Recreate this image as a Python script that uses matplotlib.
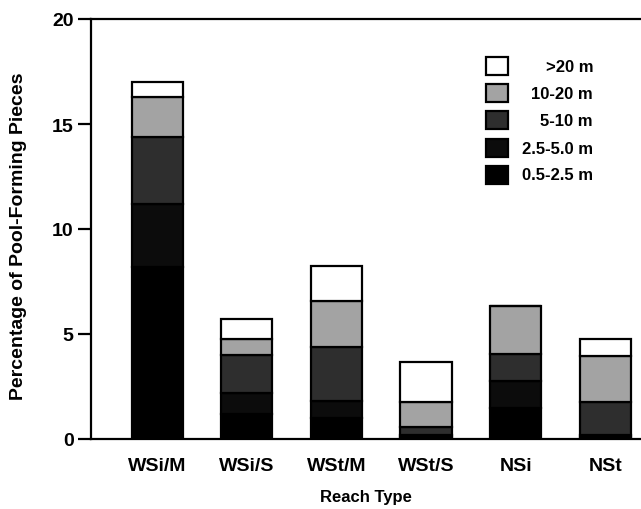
import matplotlib
matplotlib.use("Agg")
import matplotlib.pyplot as plt
from matplotlib.patches import Rectangle
import numpy as np

plt.rcParams['font.family'] = ['Liberation Sans', 'DejaVu Sans']
plt.rcParams['font.weight'] = 'bold'
plt.rcParams['axes.labelweight'] = 'bold'

categories = ["WSi/M", "WSi/S", "WSt/M", "WSt/S", "NSi", "NSt"]
size_classes = ["0.5-2.5 m", "2.5-5.0 m", "5-10 m", "10-20 m", ">20 m"]
v_05_25 = [8.2, 1.2, 1.0, 0.1, 1.5, 0.1]
v_25_50 = [3.0, 1.0, 0.8, 0.1, 1.26, 0.1]
v_5_10 = [3.2, 1.8, 2.6, 0.35, 1.3, 1.56]
v_10_20 = [1.9, 0.75, 2.16, 1.2, 2.25, 2.18]
v_20 = [0.7, 0.95, 1.7, 1.9, 0.0, 0.81]
series = [v_05_25, v_25_50, v_5_10, v_10_20, v_20]
colors = ["#000000", "#0c0c0c", "#2e2e2e", "#a3a3a3", "#ffffff"]

fig = plt.figure(figsize=(6.41, 5.10), dpi=100)
ax = fig.add_axes([91/641, 70/510, 550/641, 420/510])

x = np.arange(len(categories))
bottom = np.zeros(len(categories))
for vals, c in zip(series, colors):
    vals = np.array(vals)
    ax.bar(x, vals, bottom=bottom, width=0.57, color=c, edgecolor="black",
           linewidth=1.6, zorder=2)
    bottom += vals

ax.set_xlim(-0.74, 5.40)
ax.set_ylim(0, 20)
ax.set_yticks([0, 5, 10, 15, 20])
ax.set_xticks(x)
ax.set_xticklabels(categories)
ax.tick_params(axis='x', length=0, pad=13, labelsize=14)
ax.tick_params(axis='y', length=9.5, width=1.6, direction='out', pad=3, labelsize=14)
for s in ['left', 'top', 'bottom']:
    ax.spines[s].set_linewidth(1.6)
ax.spines['right'].set_visible(False)

ax.set_xlabel("Reach Type", fontsize=12, fontweight='bold', labelpad=11)
ax.set_ylabel("Percentage of Pool-Forming Pieces", fontsize=14, fontweight='bold')
ax.yaxis.set_label_coords((27 - 91) / 550, (440 - 236) / 420)

# legend drawn manually with right-aligned text
rows_px = [67, 94, 121, 149, 176]
leg_order = list(range(len(size_classes)))[::-1]
for py, i in zip(rows_px, leg_order):
    yf = (440 - py) / 420
    ax.add_patch(Rectangle(((486 - 91) / 550, yf - 0.022), 22 / 550, 0.044,
                           transform=ax.transAxes, facecolor=colors[i],
                           edgecolor="black", linewidth=1.6, zorder=3))
    ax.text((593 - 91) / 550, yf, size_classes[i], transform=ax.transAxes,
            ha='right', va='center', fontsize=12, fontweight='bold')

fig.savefig("out.png", dpi=100)
